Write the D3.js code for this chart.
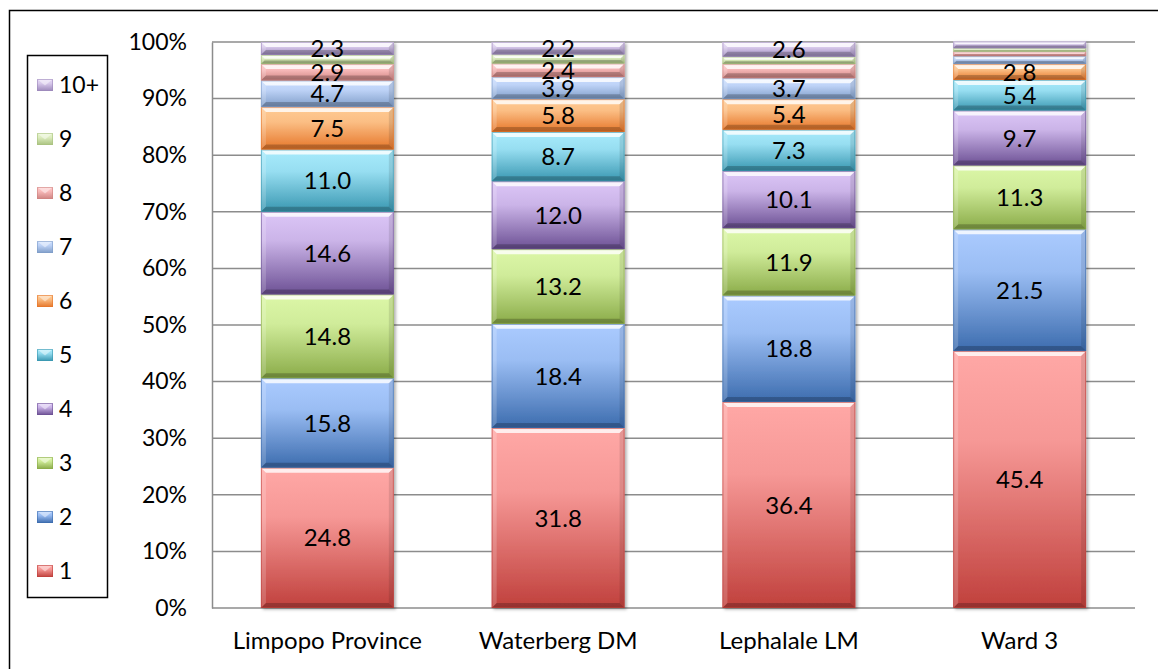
<!DOCTYPE html>
<html>
<head>
<meta charset="utf-8">
<script src="https://cdn.jsdelivr.net/npm/d3@7"></script>
<style>
  html, body { margin: 0; padding: 0; background: #fff; }
  svg { display: block; }
  text { font-family: Lato, "Open Sans", sans-serif; fill: #000; }
</style>
</head>
<body>
<svg id="chart" width="1158" height="669"></svg>
<script>
// Household size distribution (% of households) by area
const categories = ["Limpopo Province", "Waterberg DM", "Lephalale LM", "Ward 3"];
const seriesNames = ["1", "2", "3", "4", "5", "6", "7", "8", "9", "10+"];

// One array per area, ordered by household size 1 .. 10+
const limpopo   = [24.8, 15.8, 14.8, 14.6, 11.0, 7.5, 4.7, 2.9, 1.6, 2.3];
const waterberg = [31.8, 18.4, 13.2, 12.0, 8.7, 5.8, 3.9, 2.4, 1.6, 2.2];
const lephalale = [36.4, 18.8, 11.9, 10.1, 7.3, 5.4, 3.7, 2.5, 1.3, 2.6];
const ward3     = [45.4, 21.5, 11.3, 9.7, 5.4, 2.8, 1.4, 0.8, 0.6, 1.2];

// Which segments carry a data label
const labelledLimpopo   = [1, 1, 1, 1, 1, 1, 1, 1, 0, 1];
const labelledWaterberg = [1, 1, 1, 1, 1, 1, 1, 1, 0, 1];
const labelledLephalale = [1, 1, 1, 1, 1, 1, 1, 0, 0, 1];
const labelledWard3     = [1, 1, 1, 1, 1, 1, 0, 0, 0, 0];

const yTicks = [0, 10, 20, 30, 40, 50, 60, 70, 80, 90, 100];

const values = [limpopo, waterberg, lephalale, ward3];
const labelled = [labelledLimpopo, labelledWaterberg, labelledLephalale, labelledWard3];

// Light (top) and dark (bottom) shades of each series fill
const lightShades = ["#ffa8a6", "#abcbff", "#dcf7a8", "#dcc6f7", "#a8ebfc", "#ffcb94", "#c9ddff", "#ffc4c4", "#e6f5cb", "#e4d6f5"];
const darkShades  = ["#c0403c", "#3c6cae", "#8aab48", "#6c5094", "#3997b1", "#e6762a", "#7f9dc8", "#cf8381", "#a9c27f", "#9c88bb"];

const svg = d3.select("#chart");
const margin = { left: 212, right: 1135, top: 42, bottom: 608 };

// Outer frame
svg.append("rect")
  .attr("x", 9.5).attr("y", 10.5)
  .attr("width", 1170).attr("height", 680)
  .attr("fill", "none").attr("stroke", "#000").attr("stroke-width", 1.5);

const x = d3.scaleBand()
  .domain(categories)
  .range([margin.left, margin.right])
  .paddingInner(0.424)
  .paddingOuter(0.212);

const y = d3.scaleLinear().domain([0, 100]).range([margin.bottom, margin.top]);

const defs = svg.append("defs");
seriesNames.forEach((s, i) => {
  const g = defs.append("linearGradient")
    .attr("id", "grad" + i)
    .attr("x1", 0).attr("y1", 0).attr("x2", 0).attr("y2", 1);
  g.append("stop").attr("offset", "0").attr("stop-color", lightShades[i]);
  g.append("stop").attr("offset", "0.35").attr("stop-color", d3.interpolateRgb(lightShades[i], darkShades[i])(0.15));
  g.append("stop").attr("offset", "1").attr("stop-color", darkShades[i]);
});
const shadow = defs.append("filter").attr("id", "shadow")
  .attr("x", "-10%").attr("y", "-10%").attr("width", "130%").attr("height", "130%");
shadow.append("feDropShadow")
  .attr("dx", 2).attr("dy", 1.5).attr("stdDeviation", 1.5)
  .attr("flood-color", "#000").attr("flood-opacity", 0.3);

// Gridlines
const grid = svg.append("g");
grid.selectAll("line")
  .data(yTicks)
  .join("line")
  .attr("x1", margin.left).attr("x2", margin.right)
  .attr("y1", d => y(d)).attr("y2", d => y(d))
  .attr("stroke", "#8c8c8c").attr("stroke-width", 1.5);

// Y axis
const yAxis = svg.append("g")
  .attr("transform", `translate(${margin.left},0)`)
  .call(d3.axisLeft(y).tickValues(yTicks).tickFormat(d => d + "%").tickSize(0).tickPadding(25));
yAxis.select(".domain").attr("stroke", "#8c8c8c").attr("stroke-width", 1.5);
yAxis.selectAll("text")
  .style("font-family", "Lato, sans-serif")
  .style("font-size", "23px")
  .attr("fill", "#000");

// X axis labels
const xAxis = svg.append("g")
  .attr("transform", `translate(0,${margin.bottom})`)
  .call(d3.axisBottom(x).tickSize(0).tickPadding(24));
xAxis.select(".domain").remove();
xAxis.selectAll("text")
  .style("font-family", "Lato, sans-serif")
  .style("font-size", "24px")
  .attr("fill", "#000");

// Stacked segments
const stacked = values.map((vals, ci) => {
  let acc = 0;
  return vals.map((v, si) => {
    const seg = { cat: categories[ci], s: si, v, y0: acc, y1: acc + v, show: labelled[ci][si] };
    acc += v;
    return seg;
  });
});

const bars = svg.append("g");
stacked.forEach(segs => {
  const bar = bars.append("g").attr("filter", "url(#shadow)");
  segs.forEach(d => {
    const x0 = x(d.cat), w = x.bandwidth();
    const top = y(d.y1), bot = y(d.y0), h = bot - top;
    const b = Math.min(5, h / 2.5);
    const g = bar.append("g");
    g.append("rect")
      .attr("x", x0).attr("y", top).attr("width", w).attr("height", h)
      .attr("fill", `url(#grad${d.s})`);
    // bevel facets
    g.append("polygon")
      .attr("points", [[x0, top], [x0 + w, top], [x0 + w - b, top + b], [x0 + b, top + b]].join(" "))
      .attr("fill", "#fff").attr("opacity", 0.8);
    g.append("polygon")
      .attr("points", [[x0, top], [x0 + b, top + b], [x0 + b, bot - b], [x0, bot]].join(" "))
      .attr("fill", "#fff").attr("opacity", 0.18);
    g.append("polygon")
      .attr("points", [[x0 + w, top], [x0 + w - b, top + b], [x0 + w - b, bot - b], [x0 + w, bot]].join(" "))
      .attr("fill", "#000").attr("opacity", 0.1);
    g.append("polygon")
      .attr("points", [[x0, bot], [x0 + b, bot - b], [x0 + w - b, bot - b], [x0 + w, bot]].join(" "))
      .attr("fill", "#000").attr("opacity", 0.22);
    g.append("rect")
      .attr("x", x0 + 0.5).attr("y", top + 0.5).attr("width", w - 1).attr("height", Math.max(0, h - 1))
      .attr("fill", "none").attr("stroke", darkShades[d.s]).attr("stroke-opacity", 0.6).attr("stroke-width", 1);
  });
});

// Data labels
const labels = svg.append("g");
stacked.forEach(segs => {
  labels.selectAll(null)
    .data(segs.filter(d => d.show))
    .join("text")
    .attr("x", d => x(d.cat) + x.bandwidth() / 2)
    .attr("y", d => y((d.y0 + d.y1) / 2))
    .attr("dy", "0.36em")
    .attr("text-anchor", "middle")
    .style("font-size", "24px")
    .text(d => d.v.toFixed(1));
});

// Legend
const legend = svg.append("g");
legend.append("rect")
  .attr("x", 27.5).attr("y", 55.5).attr("width", 80).attr("height", 542)
  .attr("fill", "#fff").attr("stroke", "#000").attr("stroke-width", 1.5);
const legendOrder = seriesNames.map((n, i) => i).reverse();
const ly = d3.scalePoint().domain(legendOrder).range([85, 571]);
legendOrder.forEach(i => {
  const cy = ly(i);
  const g = legend.append("g");
  const lx = 37, lw = 16, lh = 12, top = cy - lh / 2;
  g.append("rect").attr("x", lx).attr("y", top).attr("width", lw).attr("height", lh)
    .attr("fill", `url(#grad${i})`);
  g.append("polygon")
    .attr("points", [[lx, top], [lx + lw, top], [lx + lw / 2, top + lh * 0.55]].join(" "))
    .attr("fill", "#fff").attr("opacity", 0.45);
  g.append("rect").attr("x", lx + 0.5).attr("y", top + 0.5).attr("width", lw - 1).attr("height", lh - 1)
    .attr("fill", "none").attr("stroke", darkShades[i]).attr("stroke-opacity", 0.6);
  g.append("text")
    .attr("x", 59).attr("y", cy).attr("dy", "0.36em")
    .style("font-size", "23px")
    .text(seriesNames[i]);
});
</script>
</body>
</html>
